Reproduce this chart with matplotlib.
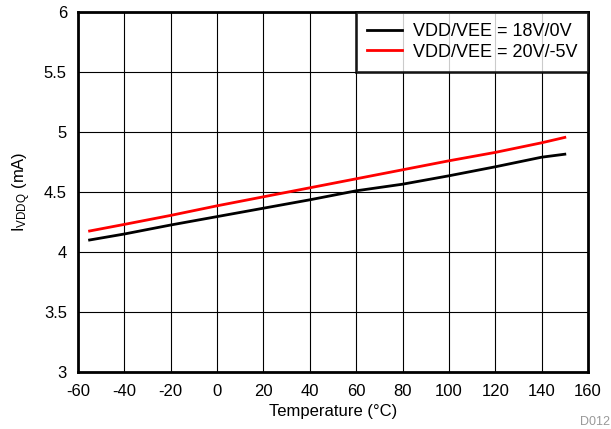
import matplotlib
matplotlib.use("Agg")
import matplotlib.pyplot as plt

plt.rcParams['font.family'] = ['Liberation Sans', 'DejaVu Sans']
plt.rcParams['mathtext.fontset'] = 'custom'
plt.rcParams['mathtext.rm'] = 'Liberation Sans'
plt.rcParams['mathtext.it'] = 'Liberation Sans'

temp = [-55, -40, -20, 0, 20, 40, 60, 80, 100, 120, 140, 150]
i_18v0v = [4.10, 4.15, 4.225, 4.295, 4.365, 4.435, 4.51, 4.565, 4.635, 4.71, 4.79, 4.815]
i_20vm5v = [4.175, 4.23, 4.305, 4.385, 4.46, 4.535, 4.61, 4.685, 4.76, 4.83, 4.91, 4.955]
labels = ['VDD/VEE = 18V/0V', 'VDD/VEE = 20V/-5V']
xticks = list(range(-60, 161, 20))
yticks = [3, 3.5, 4, 4.5, 5, 5.5, 6]
ytick_labels = ['3', '3.5', '4', '4.5', '5', '5.5', '6']

fig = plt.figure(figsize=(6.11, 4.29), dpi=100)
ax = fig.add_axes([78/611, 1 - 372/429, 510/611, 360/429])

ax.plot(temp, i_18v0v, color='black', lw=2, label=labels[0])
ax.plot(temp, i_20vm5v, color='#ff0000', lw=2, label=labels[1])

ax.set_xlim(-60, 160)
ax.set_ylim(3, 6)
ax.set_xticks(xticks)
ax.set_xticklabels([str(t) for t in xticks])
ax.set_yticks(yticks)
ax.set_yticklabels(ytick_labels)
ax.grid(True, color='black', lw=0.8)
ax.tick_params(axis='x', length=0, labelsize=12, pad=9)
ax.tick_params(axis='y', length=0, labelsize=12, pad=8)
for s in ax.spines.values():
    s.set_linewidth(2)

ax.set_xlabel('Temperature (°C)', fontsize=12, labelpad=3)
ax.set_ylabel(r'I$_{\mathrm{VDDQ}}$ (mA)', fontsize=12, labelpad=8)

leg = ax.legend(loc='upper right', fontsize=13, frameon=True, fancybox=False,
                borderaxespad=0, handlelength=1.95, borderpad=0.6, labelspacing=0.22,
                handletextpad=0.6)
leg.get_frame().set_edgecolor('black')
leg.get_frame().set_linewidth(2)

fig.text(580/611, 1 - 425/429, 'D012', fontsize=9, color='#999999', ha='left', va='baseline')

fig.savefig('out.png', dpi=100)
